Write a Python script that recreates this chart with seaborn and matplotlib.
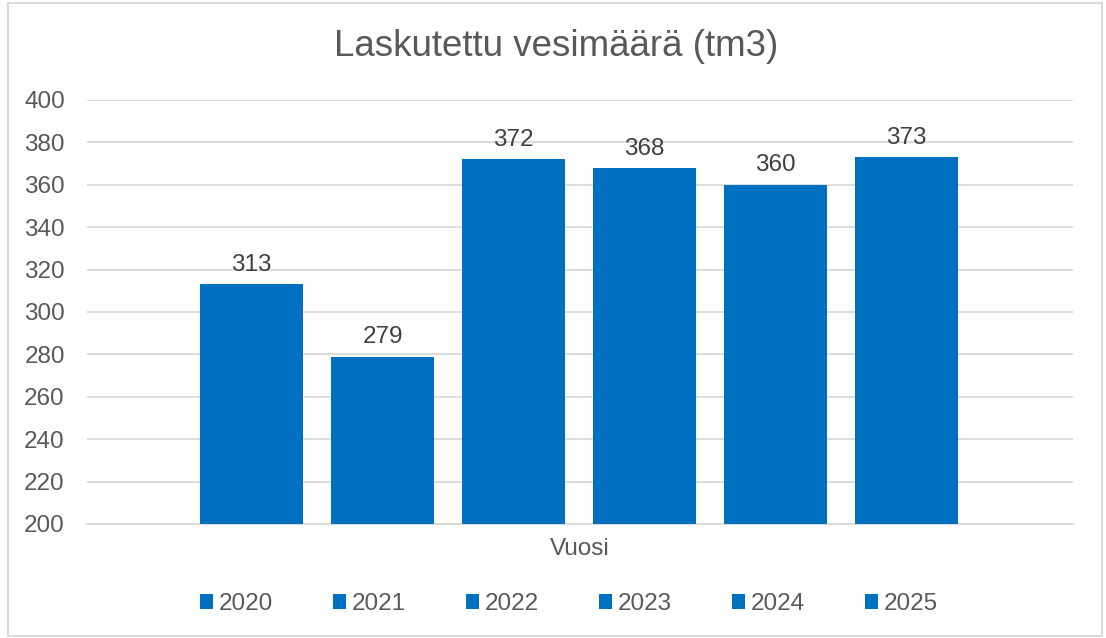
"""Laskutettu vesimäärä (tm3) - Excel-style clustered bar chart."""

import matplotlib

matplotlib.use("Agg")
import matplotlib.pyplot as plt  # noqa: E402
import pandas as pd  # noqa: E402
import seaborn as sns  # noqa: E402
from matplotlib.patches import Rectangle  # noqa: E402

years = ["2020", "2021", "2022", "2023", "2024", "2025"]
values = [313, 279, 372, 368, 360, 373]
y_ticks = list(range(200, 401, 20))

BLUE = "#0070C0"
GRID = "#D9D9D9"
TEXT = "#595959"
FS = 17.5

sns.set_theme(style="white")
plt.rcParams["font.family"] = ["Liberation Sans", "DejaVu Sans"]

df = pd.DataFrame({"year": years, "value": values})

fig = plt.figure(figsize=(11.06, 6.38), dpi=100)
ax = fig.add_axes([87 / 1106, 1 - 524 / 638, (1073 - 87) / 1106, (524 - 100) / 638])

sns.barplot(
    data=df, x="year", y="value", hue="year", order=years, hue_order=years,
    palette=[BLUE] * len(years), width=0.785, dodge=False, legend=True,
    saturation=1, linewidth=0, ax=ax, zorder=3,
)

ax.set_ylim(200, 400)
ax.set_yticks(y_ticks)
ax.set_xlim(-1.256, 6.27)
ax.set_xticks([])
ax.yaxis.grid(True, color=GRID, linewidth=1.3, zorder=0)
ax.set_axisbelow(True)
for side in ["top", "right", "left"]:
    ax.spines[side].set_visible(False)
ax.spines["bottom"].set_color(GRID)
ax.spines["bottom"].set_linewidth(1.3)
ax.tick_params(axis="y", length=0, labelsize=FS, labelcolor=TEXT, pad=16)
ax.set_ylabel("")
ax.set_xlabel("Vuosi", fontsize=FS, color=TEXT, labelpad=10)

for container in ax.containers:
    ax.bar_label(container, fmt="%d", padding=6, fontsize=FS, color="#404040")

handles, labels = ax.get_legend_handles_labels()
ax.get_legend().remove()
fig.legend(
    handles, labels, loc="center", bbox_to_anchor=(569 / 1106, 1 - 604 / 638),
    ncol=6, frameon=False, fontsize=FS, labelcolor=TEXT,
    handlelength=0.53, handleheight=0.53, handletextpad=0.25, columnspacing=2.46,
)

fig.suptitle("Laskutettu vesimäärä (tm3)", x=556 / 1106, y=1 - 47 / 638,
             va="center", fontsize=26.5, color=TEXT)

fig.patches.append(Rectangle((8 / 1106, 2 / 638), 1094 / 1106, 633 / 638,
                             transform=fig.transFigure, fill=False,
                             edgecolor=GRID, linewidth=1.5))

fig.savefig("out.png", dpi=100)
plt.close(fig)
